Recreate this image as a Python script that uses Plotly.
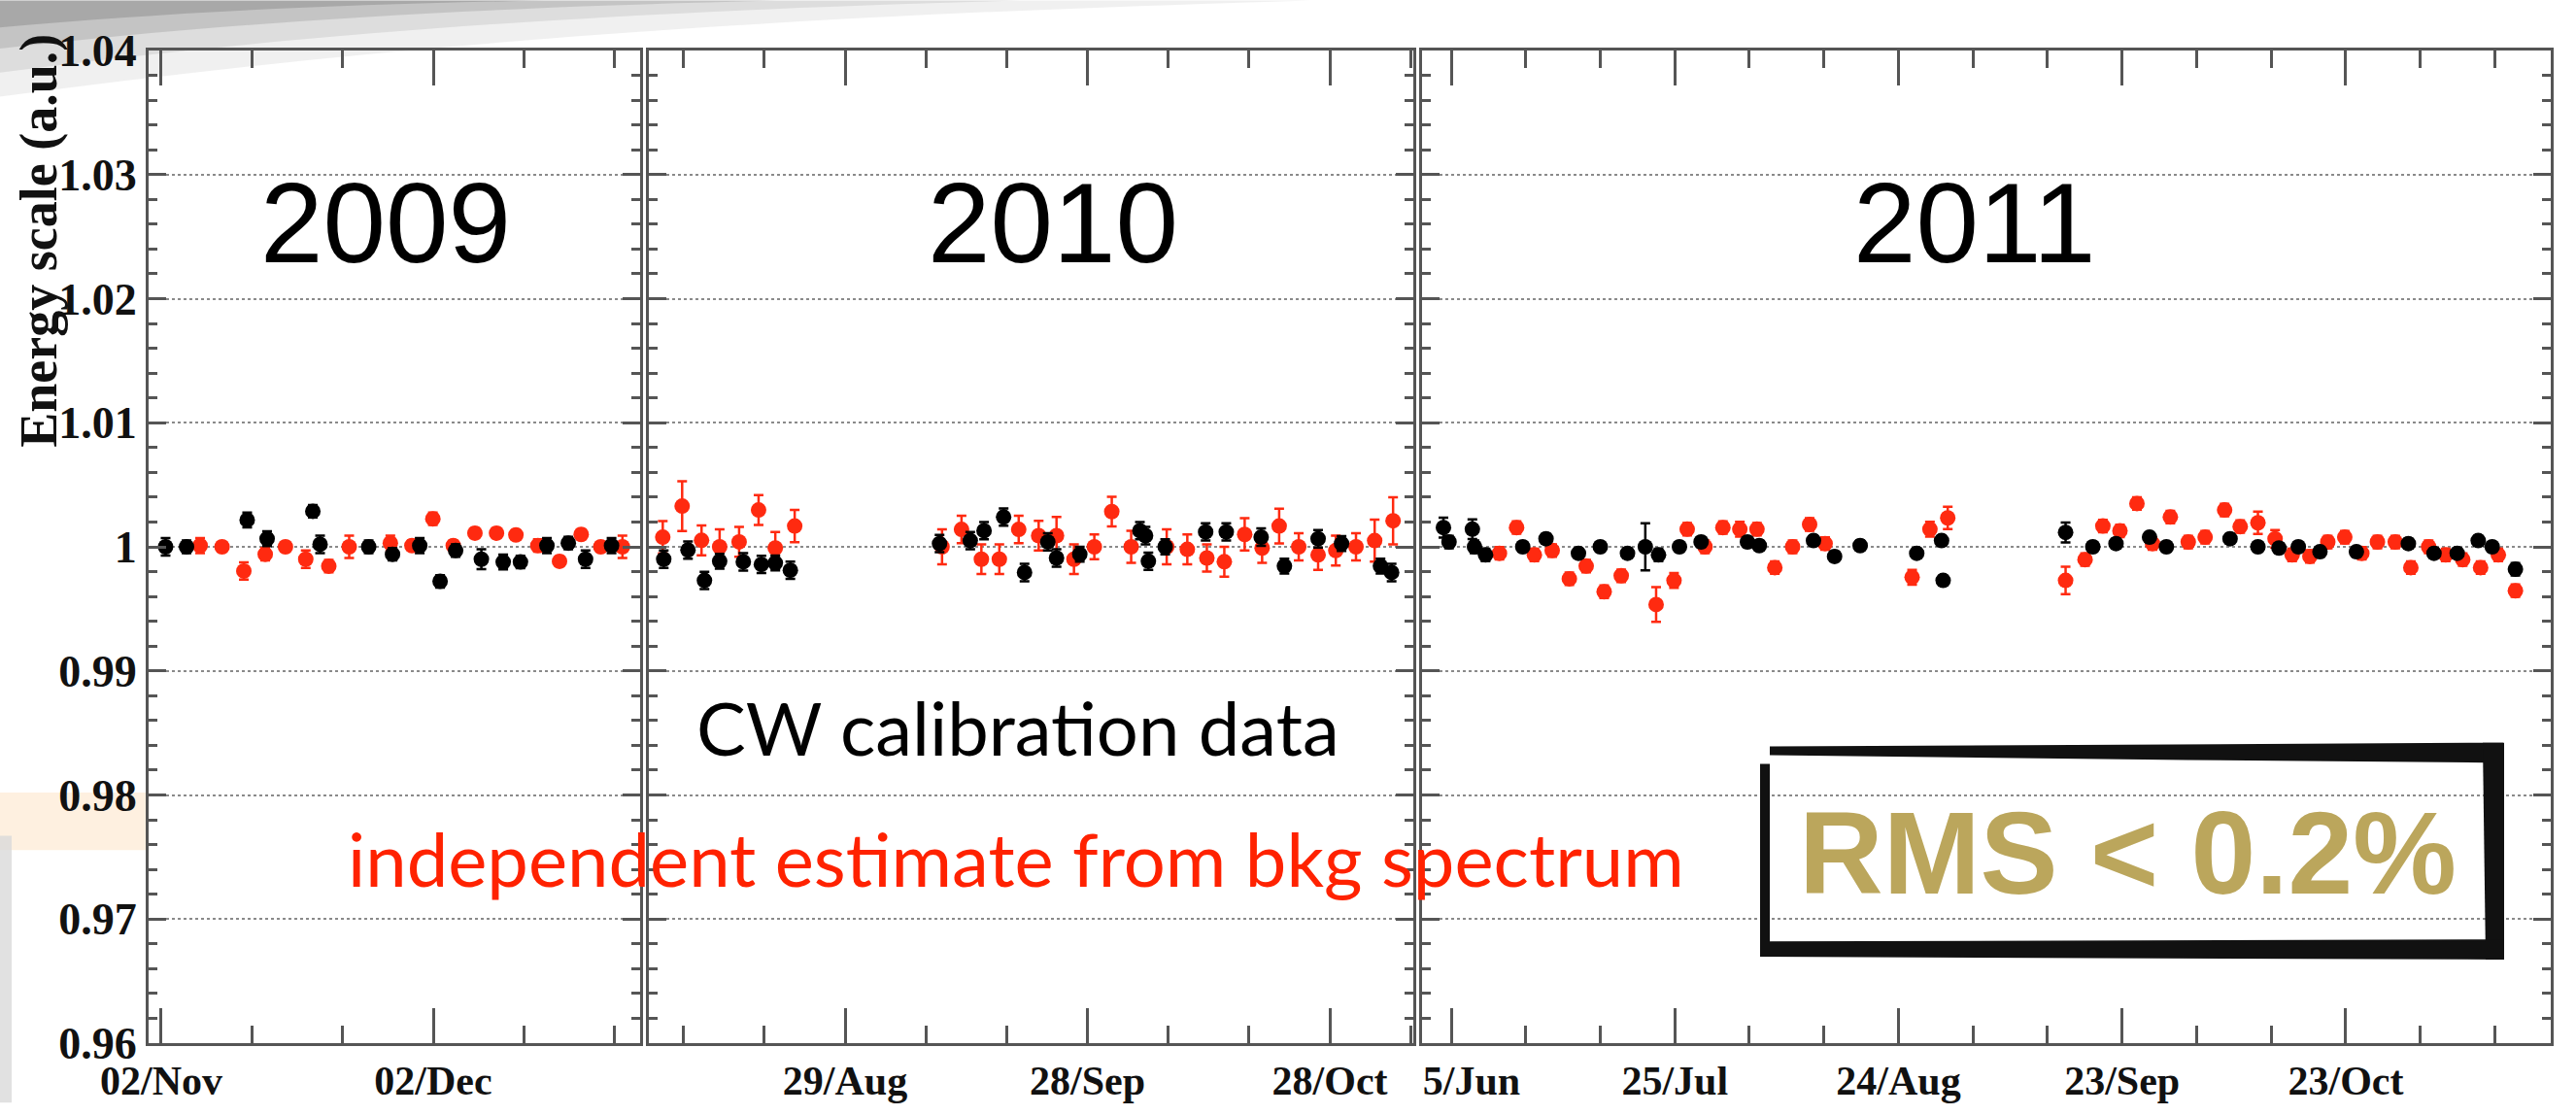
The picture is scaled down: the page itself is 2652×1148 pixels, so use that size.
import pandas as pd
import plotly.graph_objects as go

# ---------------- data ----------------
# 2009 panel: days after 02 Nov 2009
cw09_days = [0.48, 2.79, 9.48, 11.68, 16.72, 17.52, 22.88, 25.51, 28.51, 30.76, 32.47, 35.31,
             37.72, 39.62, 42.54, 44.9, 46.8, 49.67]
cw09_val = [1.0000, 1.0000, 1.00216, 1.00065, 1.00286, 1.0002, 1.0000, 0.9994, 1.0001, 0.99722,
            0.9997, 0.9990, 0.99878, 0.99878, 1.0001, 1.0003, 0.9990, 1.0001]
cw09_err = [0.0007, 0.0005, 0.0006, 0.0006, 0.0005, 0.0007, 0.0005, 0.0005, 0.0006, 0.0005,
            0.0005, 0.0008, 0.0006, 0.0005, 0.0006, 0.0005, 0.0007, 0.0006]
bkg09_days = [4.29, 6.71, 9.11, 11.47, 13.70, 15.94, 18.48, 20.73, 25.27, 27.65, 29.96, 32.21,
              34.60, 36.98, 39.12, 41.54, 43.93, 46.32, 48.48, 50.87]
bkg09_val = [1.0001, 1.0000, 0.99805, 0.9994, 1.0000, 0.9990, 0.99844, 1.0000, 1.0003, 1.0001,
             1.00226, 1.0001, 1.0011, 1.0011, 1.00096, 1.0001, 0.99883, 1.0010, 1.0000, 1.0000]
bkg09_err = [0.0006, 0.0004, 0.0007, 0.0005, 0.0004, 0.0007, 0.0005, 0.0009, 0.0006, 0.0004,
             0.0005, 0.0004, 0.0004, 0.0004, 0.0004, 0.0005, 0.0004, 0.0004, 0.0004, 0.0009]

# 2010 panel: days after 29 Aug 2010
cw10_days = [-22.45, -19.45, -17.41, -15.53, -12.6, -10.36, -8.64, -6.78, 11.69, 15.49, 17.2,
             19.62, 22.21, 25.09, 26.17, 29.05, 36.49, 37.19, 37.54, 39.62, 44.63, 47.18, 51.5,
             54.38, 58.55, 61.45, 66.27, 67.65]
cw10_val = [0.9990, 0.99974, 0.99729, 0.99884, 0.99879, 0.99858, 0.9987, 0.99811, 1.00026, 1.0005,
            1.0013, 1.0024, 0.99793, 1.0004, 0.9991, 0.9994, 1.0013, 1.0009, 0.99884, 1.0000,
            1.0012, 1.0012, 1.00078, 0.99845, 1.00065, 1.00026, 0.99845, 0.99793]
cw10_err = [0.0007, 0.0007, 0.0007, 0.0006, 0.0007, 0.0007, 0.0006, 0.0007, 0.0007, 0.0007,
            0.0007, 0.0007, 0.0007, 0.0007, 0.0007, 0.0006, 0.0007, 0.0007, 0.0007, 0.0006,
            0.0007, 0.0007, 0.0007, 0.0006, 0.0007, 0.0006, 0.0006, 0.0007]
bkg10_days = [-22.57, -20.17, -17.77, -15.53, -13.12, -10.71, -8.64, -6.24, 12.0, 14.41, 16.87,
              19.09, 21.49, 23.96, 26.17, 28.33, 30.85, 33.01, 35.41, 39.81, 42.36, 44.78, 46.94,
              49.46, 51.62, 53.73, 56.15, 58.55, 60.74, 63.24, 65.55, 67.83]
bkg10_val = [1.00078, 1.00328, 1.00052, 1.0000, 1.0004, 1.00297, 0.9999, 1.00168, 1.0000, 1.0014,
             0.9990, 0.9990, 1.0014, 1.0009, 1.0009, 0.9990, 1.0000, 1.00284, 1.0000, 1.0000,
             0.9998, 0.9991, 0.9988, 1.0010, 0.9999, 1.00168, 1.0000, 0.99935, 0.9997, 1.0000,
             1.0005, 1.0021]
bkg10_err = [0.0013, 0.0020, 0.0012, 0.0014, 0.0012, 0.0012, 0.0013, 0.0013, 0.0014, 0.0011,
             0.0012, 0.0012, 0.0011, 0.0012, 0.0015, 0.0012, 0.0010, 0.0012, 0.0013, 0.0014,
             0.0012, 0.0011, 0.0012, 0.0013, 0.0012, 0.0014, 0.0011, 0.0012, 0.0012, 0.0011,
             0.0017, 0.0019]

# 2011 panel: days after 25 Jun 2011
cw11_days = [-1.04, -0.29, 2.84, 3.13, 4.61, 9.60, 12.72, 17.07, 20.0, 23.65, 26.04, 27.81, 30.62,
             33.52, 39.74, 41.33, 48.6, 51.43, 54.86, 62.45, 65.78, 65.99, 82.42, 86.07, 89.18,
             93.68, 95.94, 104.48, 108.22, 111.04, 113.64, 116.54, 121.43, 128.4, 131.84, 134.95,
             137.77, 139.65, 142.76]
cw11_val = [1.00155, 1.00039, 1.00142, 1.0000, 0.99935, 1.0000, 1.00065, 0.99948, 1.0000, 0.99948,
            1.0000, 0.99935, 1.0000, 1.00039, 1.00039, 1.0001, 1.0005, 0.99922, 1.0001, 0.99948,
            1.0005, 0.99729, 1.00116, 1.0000, 1.00026, 1.00078, 1.0000, 1.00065, 1.0000, 0.9999,
            1.0000, 0.9996, 0.9996, 1.00026, 0.99948, 0.99948, 1.0005, 1.0000, 0.99819]
cw11_err = [0.0008, 0.0005, 0.0008, 0.0005, 0.0005, 0.0004, 0.0004, 0.0004, 0.0004, 0.0004,
            0.0019, 0.0005, 0.0004, 0.0004, 0.0004, 0.0004, 0.0004, 0.0004, 0.0004, 0.0004,
            0.0004, 0.0004, 0.0008, 0.0004, 0.0004, 0.0004, 0.0004, 0.0004, 0.0004, 0.0004,
            0.0004, 0.0004, 0.0004, 0.0004, 0.0004, 0.0004, 0.0004, 0.0004, 0.0005]
bkg11_days = [6.47, 8.77, 11.16, 13.55, 15.85, 18.11, 20.52, 22.81, 27.49, 29.89, 31.66, 34.05,
              36.45, 38.72, 41.02, 43.41, 45.8, 48.08, 50.16, 61.83, 64.22, 66.61, 82.42, 85.03,
              87.42, 89.71, 91.99, 94.08, 96.47, 98.87, 101.14, 103.75, 105.84, 108.22, 110.52,
              112.81, 115.19, 117.59, 119.87, 122.16, 124.25, 126.64, 128.73, 131.12, 133.41,
              135.69, 138.09, 140.47, 142.76]
bkg11_val = [0.99948, 1.00155, 0.99935, 0.9997, 0.99742, 0.99845, 0.99638, 0.99767, 0.99535,
             0.99729, 1.00142, 1.0000, 1.00155, 1.00142, 1.00142, 0.99832, 1.0000, 1.0018, 1.00026,
             0.99755, 1.00142, 1.00233, 0.99729, 0.99897, 1.00168, 1.00129, 1.00349, 1.00026,
             1.0024, 1.00039, 1.00078, 1.00297, 1.00163, 1.00194, 1.00065, 0.99935, 0.99922,
             1.00039, 1.00078, 0.99948, 1.00039, 1.00039, 0.99832, 1.0000, 0.99935, 0.99897,
             0.99832, 0.99935, 0.99646]
bkg11_err = [0.0005, 0.0005, 0.0005, 0.0005, 0.0005, 0.0005, 0.0005, 0.0005, 0.0014, 0.0006,
             0.0005, 0.0005, 0.0005, 0.0006, 0.0005, 0.0005, 0.0005, 0.0005, 0.0005, 0.0006,
             0.0006, 0.0009, 0.0011, 0.0005, 0.0005, 0.0005, 0.0005, 0.0005, 0.0005, 0.0005,
             0.0005, 0.0005, 0.0005, 0.0009, 0.0007, 0.0005, 0.0005, 0.0005, 0.0005, 0.0005,
             0.0005, 0.0005, 0.0005, 0.0005, 0.0005, 0.0005, 0.0005, 0.0005, 0.0005]

# axis ticks
y_ticks = [0.96, 0.97, 0.98, 0.99, 1.00, 1.01, 1.02, 1.03, 1.04]
y_labels = ["0.96", "0.97", "0.98", "0.99", "1", "1.01", "1.02", "1.03", "1.04"]
x09_major = ["2009-11-02", "2009-12-02"]
x09_labels = ["02/Nov", "02/Dec"]
x09_minor = ["2009-11-12", "2009-11-22", "2009-12-12", "2009-12-22"]
x10_major = ["2010-08-29", "2010-09-28", "2010-10-28"]
x10_labels = ["29/Aug", "28/Sep", "28/Oct"]
x10_minor = ["2010-08-09", "2010-08-19", "2010-09-08", "2010-09-18", "2010-10-08", "2010-10-18",
             "2010-11-07"]
x11_major = ["2011-06-25", "2011-07-25", "2011-08-24", "2011-09-23", "2011-10-23"]
x11_labels = ["\u00a0\u00a0\u00a0\u00a05/Jun", "25/Jul", "24/Aug", "23/Sep", "23/Oct"]
x11_minor = ["2011-07-05", "2011-07-15", "2011-08-04", "2011-08-14", "2011-09-03", "2011-09-13",
             "2011-10-03", "2011-10-13", "2011-11-02", "2011-11-12"]

# ---------------- geometry helpers ----------------
W, H = 2652, 1148
L, R, T, B = 153, 2626, 52, 1086


def fx(px):
    return (px - L) / (R - L)


def fy(py):
    return (B - py) / (B - T)


def to_dates(base, days):
    b = pd.Timestamp(base)
    return [b + pd.Timedelta(days=d) for d in days]


BLACK = "#000000"
RED = "#ff2a10"

fig = go.Figure()

panels = [
    ("x", "y", "2009-11-02", cw09_days, cw09_val, cw09_err, bkg09_days, bkg09_val, bkg09_err),
    ("x2", "y2", "2010-08-29", cw10_days, cw10_val, cw10_err, bkg10_days, bkg10_val, bkg10_err),
    ("x3", "y3", "2011-06-25", cw11_days, cw11_val, cw11_err, bkg11_days, bkg11_val, bkg11_err),
]
for xa, ya, base, cd, cv, ce, bd, bv, be in panels:
    fig.add_trace(go.Scatter(
        x=to_dates(base, bd), y=bv, mode="markers", xaxis=xa, yaxis=ya,
        marker=dict(color=RED, size=16, line=dict(width=0)),
        error_y=dict(type="data", array=be, color=RED, thickness=2.5, width=5),
        showlegend=False))
    fig.add_trace(go.Scatter(
        x=to_dates(base, cd), y=cv, mode="markers", xaxis=xa, yaxis=ya,
        marker=dict(color=BLACK, size=16, line=dict(width=0)),
        error_y=dict(type="data", array=ce, color=BLACK, thickness=2.5, width=5),
        showlegend=False))

AXC = "#555555"
tickfont_y = dict(family="Liberation Serif", size=46, color="#111111", weight="bold")
tickfont_x = dict(family="Liberation Serif", size=42, color="#111111", weight="bold")


def xaxis(domain, rng, major, labels, minor, anchor):
    return dict(domain=domain, range=rng, type="date", anchor=anchor,
                tickmode="array", tickvals=major, ticktext=labels,
                ticks="inside", ticklen=36, tickwidth=3, tickcolor=AXC,
                minor=dict(tickmode="array", tickvals=minor, ticks="inside", ticklen=18,
                           tickwidth=3, tickcolor=AXC, showgrid=False),
                showline=True, linecolor=AXC, linewidth=3, mirror="ticks",
                showgrid=False, zeroline=False, tickfont=tickfont_x, tickangle=0)


def yaxis(anchor, labels):
    return dict(range=[0.96, 1.04], domain=[0, 1], anchor=anchor,
                tickmode="array", tickvals=y_ticks, ticktext=y_labels,
                showticklabels=labels,
                ticks="inside", ticklen=18, tickwidth=3, tickcolor=AXC,
                minor=dict(tickmode="linear", tick0=0.96, dtick=0.002, ticks="inside",
                           ticklen=9, tickwidth=3, tickcolor=AXC, showgrid=False),
                showline=True, linecolor=AXC, linewidth=3, mirror="ticks",
                showgrid=True, gridcolor="#8a8a8a", gridwidth=2, griddash="dot",
                zeroline=False, tickfont=tickfont_y)


fig.update_layout(
    width=W, height=H, autosize=False,
    margin=dict(l=L, r=W - R, t=T, b=H - B, pad=0),
    paper_bgcolor="white", plot_bgcolor="rgba(0,0,0,0)",
    xaxis=xaxis([fx(153), fx(659)], ["2009-10-31 14:36", "2009-12-24 19:40"],
                x09_major, x09_labels, x09_minor, "y"),
    xaxis2=xaxis([fx(668), fx(1455)], ["2010-08-04 17:00", "2010-11-07 08:00"],
                 x10_major, x10_labels, x10_minor, "y2"),
    xaxis3=xaxis([fx(1464), fx(2626)], ["2011-06-21 02:10", "2011-11-19 12:00"],
                 x11_major, x11_labels, x11_minor, "y3"),
    yaxis=yaxis("x", True),
    yaxis2=yaxis("x2", False),
    yaxis3=yaxis("x3", False),
)

shapes = []
# slide background decoration (top-left swoosh, left edge)
for ext, depth, op in [(1350, 100, 0.06), (1050, 75, 0.08), (800, 50, 0.11), (560, 28, 0.14)]:
    path = (f"M {fx(0)},{fy(0)} L {fx(ext)},{fy(0)} "
            f"C {fx(ext*0.6)},{fy(depth*0.15)} {fx(ext*0.3)},{fy(depth*0.45)} {fx(0)},{fy(depth)} Z")
    shapes.append(dict(type="path", path=path, xref="paper", yref="paper",
                       fillcolor="black", opacity=op, line=dict(width=0), layer="below"))
shapes.append(dict(type="rect", xref="paper", yref="paper", x0=fx(0), x1=fx(150),
                   y0=fy(885), y1=fy(825), fillcolor="#fde6cc", opacity=0.6,
                   line=dict(width=0), layer="below"))
shapes.append(dict(type="rect", xref="paper", yref="paper", x0=fx(0), x1=fx(12),
                   y0=fy(1148), y1=fy(870), fillcolor="#d9d9d9", opacity=0.8,
                   line=dict(width=0), layer="below"))
# RMS box border (thick black, grungy)
box = [
    (f"M {fx(1822)},{fy(777)} L {fx(2577)},{fy(773)} L {fx(2577)},{fy(794)} "
     f"L {fx(2250)},{fy(791)} L {fx(1822)},{fy(786)} Z"),
    (f"M {fx(2556)},{fy(773)} L {fx(2578)},{fy(773)} L {fx(2578)},{fy(999)} L {fx(2559)},{fy(999)} Z"),
    (f"M {fx(1812)},{fy(980)} L {fx(2578)},{fy(978)} L {fx(2578)},{fy(999)} L {fx(1812)},{fy(996)} Z"),
    (f"M {fx(1812)},{fy(795)} L {fx(1822)},{fy(795)} L {fx(1822)},{fy(990)} L {fx(1812)},{fy(990)} Z"),
]
for p in box:
    shapes.append(dict(type="path", path=p, xref="paper", yref="paper",
                       fillcolor="#111111", line=dict(width=0), layer="above"))
fig.update_layout(shapes=shapes)

ann = []
for txt, cx in [("2009", 397), ("2010", 1084), ("2011", 2032)]:
    ann.append(dict(text=txt, x=fx(cx), y=fy(232), xref="paper", yref="paper",
                    showarrow=False, xanchor="center", yanchor="middle",
                    font=dict(family="Liberation Sans", size=116, color="#000000")))
ann.append(dict(text="CW calibration data", x=fx(1048), y=fy(757), xref="paper", yref="paper",
                showarrow=False, xanchor="center", yanchor="middle",
                font=dict(family="Lato", size=76, color="#000000")))
ann.append(dict(text="independent estimate from bkg spectrum", x=fx(1046), y=fy(893),
                xref="paper", yref="paper", showarrow=False, xanchor="center", yanchor="middle",
                font=dict(family="Lato", size=76, color="#ff2200")))
ann.append(dict(text="RMS < 0.2%", x=fx(2190), y=fy(888), xref="paper", yref="paper",
                showarrow=False, xanchor="center", yanchor="middle",
                font=dict(family="Liberation Sans", size=120, color="#bba65c", weight="bold")))
ann.append(dict(text="Energy scale (a.u.)", x=fx(40), y=fy(250), xref="paper", yref="paper",
                showarrow=False, xanchor="center", yanchor="middle", textangle=-90,
                font=dict(family="Liberation Serif", size=54, color="#111111", weight="bold")))
fig.update_layout(annotations=ann)

fig.write_html("out.html")
